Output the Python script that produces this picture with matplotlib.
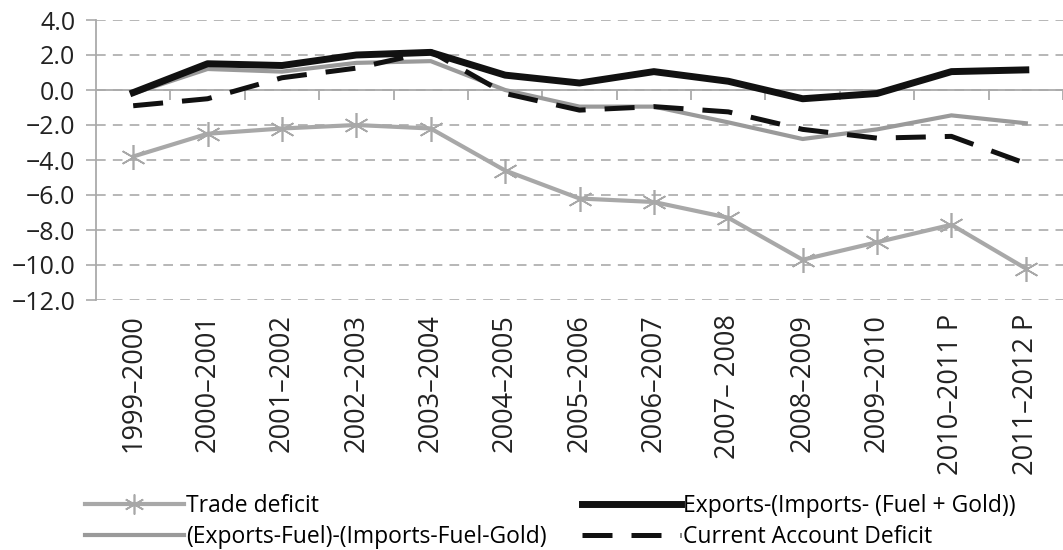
import matplotlib
matplotlib.use("Agg")
import matplotlib.pyplot as plt
import numpy as np

years = [
    "1999–2000", "2000–2001", "2001–2002", "2002–2003", "2003–2004",
    "2004–2005", "2005–2006", "2006–2007", "2007– 2008", "2008–2009",
    "2009–2010", "2010–2011 P", "2011–2012 P",
]

trade_deficit = [-3.8, -2.5, -2.2, -2.0, -2.2, -4.6, -6.2, -6.4, -7.3, -9.7, -8.7, -7.7, -10.2]
exports_ex_fuel_gold = [-0.15, 1.5, 1.4, 2.0, 2.15, 0.85, 0.4, 1.05, 0.5, -0.5, -0.2, 1.05, 1.15]
exports_fuel_net = [-0.2, 1.2, 1.05, 1.55, 1.65, 0.0, -0.95, -0.95, -1.85, -2.8, -2.25, -1.45, -1.9]
current_account = [-0.9, -0.5, 0.7, 1.25, 2.2, -0.2, -1.15, -0.95, -1.25, -2.25, -2.75, -2.65, -4.2]

plt.rcParams["font.family"] = ["Open Sans", "DejaVu Sans"]

W, H = 1063, 550
fig = plt.figure(figsize=(W / 100, H / 100), dpi=100)
ax = fig.add_axes([96 / W, 1 - 300 / H, 967 / W, 280 / H])

x = np.arange(len(years))

l_trade, = ax.plot(x, trade_deficit, color="#a8a8a8", lw=3, marker=(6, 2, 0),
                   markersize=18, markeredgewidth=1.2, markeredgecolor="#a8a8a8",
                   label="Trade deficit", zorder=3)
l_fuel, = ax.plot(x, exports_fuel_net, color="#9a9a9a", lw=3,
                  label="(Exports-Fuel)-(Imports-Fuel-Gold)", zorder=3)
l_exp, = ax.plot(x, exports_ex_fuel_gold, color="#111111", lw=5,
                 label="Exports-(Imports- (Fuel + Gold))", zorder=4)
l_ca, = ax.plot(x, current_account, color="#111111", lw=3.6, dashes=(6, 3.8),
                label="Current Account Deficit", zorder=5)

ax.set_xlim(-0.5, len(years) - 0.5)
ax.set_ylim(-12, 4)
yt = np.arange(-12, 4.1, 2)
ax.set_yticks(yt)
ax.set_yticklabels([f"{v:.1f}".replace("-", "−") for v in yt])
ax.yaxis.grid(True, linestyle=(0, (5.8, 4.3)), color="#aaaaaa", lw=1.2)
ax.set_axisbelow(True)

# category axis sits on the zero line, labels stay at the bottom
for side in ("top", "right"):
    ax.spines[side].set_visible(False)
ax.spines["left"].set_color("#aaaaaa")
ax.spines["left"].set_linewidth(1.3)
ax.spines["bottom"].set_position(("data", 0))
ax.spines["bottom"].set_color("#aaaaaa")
ax.spines["bottom"].set_linewidth(1.3)
ax.tick_params(axis="y", length=7, width=1.2, color="#aaaaaa",
               labelsize=18, pad=8, labelcolor="#222222")
ax.set_xticks(np.arange(len(years)) + 0.5)
ax.set_xticklabels([])
ax.tick_params(axis="x", direction="out", length=7, width=1.3, color="#aaaaaa")

for i, lab in enumerate(years):
    ax.annotate(lab, (i, -12), xytext=(0, -10), textcoords="offset points",
                rotation=90, ha="center", va="top", fontsize=19.5,
                color="#222222")

leg_kw = dict(loc="upper left", frameon=False, fontsize=16.5, handlelength=4.3,
              handletextpad=0.12, labelspacing=0.3, borderpad=0,
              borderaxespad=0, markerscale=0.8)
fig.legend([l_trade, l_fuel], [l_trade.get_label(), l_fuel.get_label()],
           bbox_to_anchor=(85 / W, 1 - 494 / H), **leg_kw)
fig.legend([l_exp, l_ca], [l_exp.get_label(), l_ca.get_label()],
           bbox_to_anchor=(582 / W, 1 - 494 / H), **leg_kw)

fig.savefig("out.png", dpi=100)
